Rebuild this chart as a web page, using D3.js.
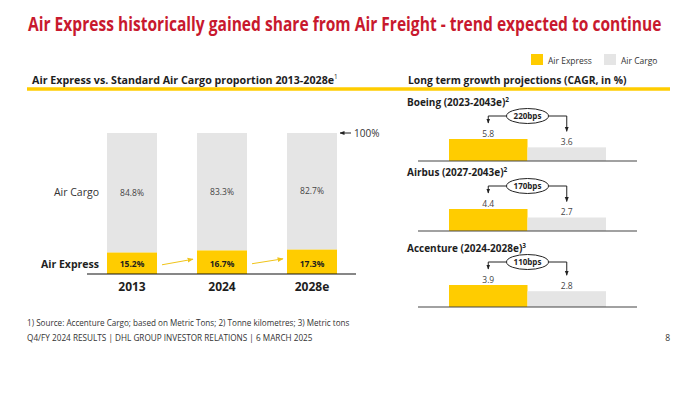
<!DOCTYPE html>
<html>
<head>
<meta charset="utf-8">
<script src="https://cdn.jsdelivr.net/npm/d3@7"></script>
<style>
  html, body { margin: 0; padding: 0; background: #fff; }
  svg { display: block; font-family: "Open Sans", "Noto Sans", sans-serif; }
</style>
</head>
<body>
<svg id="chart" width="697" height="396"></svg>
<script>
// ---------- DATA ----------
const years = ["2013", "2024", "2028e"];
const airExpressShare = [15.2, 16.7, 17.3];
const airCargoShare = [84.8, 83.3, 82.7];

const sources = ["Boeing (2023-2043e)", "Airbus (2027-2043e)", "Accenture (2024-2028e)"];
const sourceNotes = ["2", "2", "3"];
const expressCAGR = [5.8, 4.4, 3.9];
const cargoCAGR = [3.6, 2.7, 2.8];
const bpsLabels = ["220bps", "170bps", "110bps"];

const seriesNames = ["Air Express", "Air Cargo"];

// ---------- STYLE ----------
const YELLOW = "#ffcc00";
const GRAY = "#e5e5e5";
const RED = "#c8192e";
const TEXT = "#1e1e1e";

const svg = d3.select("#chart");

// fit a text horizontally to a target width by scaling its group
function fittedText(x, y, width, attrs, build) {
  const g = svg.append("g");
  const t = g.append("text").attr("x", 0).attr("y", 0);
  Object.entries(attrs).forEach(([k, v]) => t.attr(k, v));
  build(t);
  const w = t.node().getBBox().width;
  const s = w > 0 ? width / w : 1;
  g.attr("transform", `translate(${x},${y}) scale(${s},1)`);
  return g;
}

// arrow markers
const defs = svg.append("defs");
defs.append("marker").attr("id", "arrBlack").attr("viewBox", "0 0 10 10")
  .attr("refX", 9).attr("refY", 5).attr("markerWidth", 5).attr("markerHeight", 5)
  .attr("orient", "auto").append("path").attr("d", "M0,1 L10,5 L0,9 Z").attr("fill", "#222");
defs.append("marker").attr("id", "arrYellow").attr("viewBox", "0 0 10 10")
  .attr("refX", 9).attr("refY", 5).attr("markerWidth", 6).attr("markerHeight", 6)
  .attr("orient", "auto").append("path").attr("d", "M0,1 L10,5 L0,9 Z").attr("fill", "#f0c419");

// ---------- TITLE ----------
fittedText(28, 31, 634, { fill: RED, "font-size": 19, "font-weight": 700 },
  t => t.text("Air Express historically gained share from Air Freight - trend expected to continue"));

// legend
const legendX = [531, 604];
const legendColors = [YELLOW, GRAY];
seriesNames.forEach((n, i) => {
  svg.append("rect").attr("x", legendX[i]).attr("y", 54).attr("width", 12).attr("height", 11)
    .attr("fill", legendColors[i]);
  svg.append("text").attr("x", legendX[i] + 17).attr("y", 63.5)
    .attr("font-size", 8.5).attr("fill", "#333").text(n);
});

// subheaders
fittedText(32, 84, 306, { "font-size": 11, "font-weight": 700, fill: TEXT }, t => {
  t.append("tspan").text("Air Express vs. Standard Air Cargo proportion 2013-2028e");
  t.append("tspan").attr("dy", -5).attr("font-size", 6.5).attr("font-weight", 400).text("1");
});
fittedText(408, 84, 219, { "font-size": 11, "font-weight": 700, fill: TEXT },
  t => t.text("Long term growth projections (CAGR, in %)"));

svg.append("line").attr("x1", 27).attr("x2", 670).attr("y1", 89).attr("y2", 89)
  .attr("stroke", YELLOW).attr("stroke-width", 3.5);

// ---------- LEFT CHART ----------
const x = d3.scaleBand().domain(years).range([87, 357])
  .paddingInner(40 / 90).paddingOuter(20 / 90);
const y = d3.scaleLinear().domain([0, 100]).range([274, 133]);

const left = svg.append("g");
left.selectAll("rect.cargo").data(years).join("rect").attr("class", "cargo")
  .attr("x", d => x(d)).attr("width", x.bandwidth())
  .attr("y", (d, i) => y(airExpressShare[i] + airCargoShare[i]))
  .attr("height", (d, i) => y(airExpressShare[i]) - y(airExpressShare[i] + airCargoShare[i]))
  .attr("fill", GRAY);
left.selectAll("rect.express").data(years).join("rect").attr("class", "express")
  .attr("x", d => x(d)).attr("width", x.bandwidth())
  .attr("y", (d, i) => y(airExpressShare[i]))
  .attr("height", (d, i) => y(0) - y(airExpressShare[i]))
  .attr("fill", YELLOW);

left.selectAll("text.cv").data(years).join("text").attr("class", "cv")
  .attr("x", d => x(d) + x.bandwidth() / 2)
  .attr("y", (d, i) => (y(airExpressShare[i]) + y(airExpressShare[i] + airCargoShare[i])) / 2)
  .attr("dy", "0.35em").attr("text-anchor", "middle")
  .attr("font-size", 8.5).attr("fill", "#444")
  .text((d, i) => airCargoShare[i].toFixed(1) + "%");
left.selectAll("text.ev").data(years).join("text").attr("class", "ev")
  .attr("x", d => x(d) + x.bandwidth() / 2)
  .attr("y", 264)
  .attr("dy", "0.35em").attr("text-anchor", "middle")
  .attr("font-size", 8.5).attr("font-weight", 700).attr("fill", TEXT)
  .text((d, i) => airExpressShare[i].toFixed(1) + "%");

// axis
const xAxis = left.append("g").attr("transform", `translate(0,${y(0)})`)
  .call(d3.axisBottom(x).tickSize(0).tickPadding(8));
xAxis.select(".domain").attr("stroke", "#111").attr("stroke-width", 1.2)
  .attr("d", "M87,0H356");
xAxis.selectAll("text").attr("font-size", 12).attr("font-weight", 700)
  .attr("fill", TEXT).attr("font-family", "Open Sans, sans-serif");

// row labels
left.append("text").attr("x", 99).attr("y", (y(airExpressShare[0]) + y(100)) / 2)
  .attr("dy", "0.35em").attr("text-anchor", "end").attr("font-size", 10.5).attr("fill", "#333")
  .text("Air Cargo");
left.append("text").attr("x", 99).attr("y", 264)
  .attr("dy", "0.35em").attr("text-anchor", "end").attr("font-size", 10.5).attr("font-weight", 700)
  .attr("fill", TEXT).text("Air Express");

// yellow trend arrows
for (let i = 0; i < years.length - 1; i++) {
  const ya = (y(airExpressShare[i]) + y(0)) / 2;
  const yb = (y(airExpressShare[i + 1]) + y(0)) / 2;
  left.append("line")
    .attr("x1", x(years[i]) + x.bandwidth() + 5).attr("y1", ya + 1.5)
    .attr("x2", x(years[i + 1]) - 4).attr("y2", yb - 3)
    .attr("stroke", "#f0c419").attr("stroke-width", 1).attr("marker-end", "url(#arrYellow)");
}

// 100% marker
left.append("line").attr("x1", 351).attr("x2", 340).attr("y1", y(100)).attr("y2", y(100))
  .attr("stroke", "#222").attr("stroke-width", 1).attr("marker-end", "url(#arrBlack)");
left.append("text").attr("x", 354).attr("y", y(100)).attr("dy", "0.35em")
  .attr("font-size", 10).attr("fill", "#333").text("100%");

// ---------- RIGHT PANELS ----------
const xr = d3.scaleBand().domain(seriesNames).range([449, 606]).padding(0);
const panelBase = [161, 231, 307];

sources.forEach((src, i) => {
  const base = panelBase[i];
  const vals = [expressCAGR[i], cargoCAGR[i]];
  const h = d3.scaleLinear().domain([0, d3.max(vals)]).range([0, 22]);
  const g = svg.append("g");

  // title
  const t = g.append("text").attr("x", 407).attr("y", base - 55)
    .attr("font-size", 10).attr("font-weight", 700).attr("fill", TEXT);
  t.append("tspan").text(src);
  t.append("tspan").attr("dy", -4).attr("font-size", 6.5).text(sourceNotes[i]);

  // bars
  g.selectAll("rect").data(seriesNames).join("rect")
    .attr("x", d => xr(d)).attr("width", xr.bandwidth())
    .attr("y", (d, j) => base - h(vals[j]))
    .attr("height", (d, j) => h(vals[j]))
    .attr("fill", (d, j) => j === 0 ? YELLOW : GRAY);

  // baseline
  g.append("line").attr("x1", 418).attr("x2", 637).attr("y1", base).attr("y2", base)
    .attr("stroke", "#444").attr("stroke-width", 1.2);

  // value labels
  g.selectAll("text.v").data(seriesNames).join("text").attr("class", "v")
    .attr("x", d => xr(d) + xr.bandwidth() / 2)
    .attr("y", (d, j) => base - h(vals[j]) - 5)
    .attr("dy", "0.35em").attr("text-anchor", "middle")
    .attr("font-size", 8.5).attr("fill", "#444")
    .text((d, j) => vals[j].toFixed(1));

  // connector with ellipse
  const ey = base - 45;
  const cx = xr("Air Cargo");
  const rx = 21, ry = 7.5;
  seriesNames.forEach((d, j) => {
    const bx = xr(d) + xr.bandwidth() / 2;
    const tipY = base - h(vals[j]) - 16;
    const startX = j === 0 ? cx - rx : cx + rx;
    g.append("path")
      .attr("d", `M${startX},${ey}H${bx}V${tipY}`)
      .attr("fill", "none").attr("stroke", "#222").attr("stroke-width", 1)
      .attr("marker-end", "url(#arrBlack)");
  });
  g.append("ellipse").attr("cx", cx).attr("cy", ey).attr("rx", rx).attr("ry", ry)
    .attr("fill", "#fff").attr("stroke", "#222").attr("stroke-width", 1);
  g.append("text").attr("x", cx).attr("y", ey).attr("dy", "0.35em").attr("text-anchor", "middle")
    .attr("font-size", 8).attr("font-weight", 700).attr("fill", TEXT).text(bpsLabels[i]);
});

// ---------- FOOTER ----------
fittedText(27, 326, 323, { "font-size": 8.5, fill: "#333" },
  t => t.text("1) Source: Accenture Cargo; based on Metric Tons; 2) Tonne kilometres; 3) Metric tons"));
fittedText(27, 341, 286, { "font-size": 8.5, fill: "#333" },
  t => t.text("Q4/FY 2024 RESULTS | DHL GROUP INVESTOR RELATIONS | 6 MARCH 2025"));
svg.append("text").attr("x", 670).attr("y", 341).attr("text-anchor", "end")
  .attr("font-size", 8.5).attr("fill", "#333").text("8");
</script>
</body>
</html>
